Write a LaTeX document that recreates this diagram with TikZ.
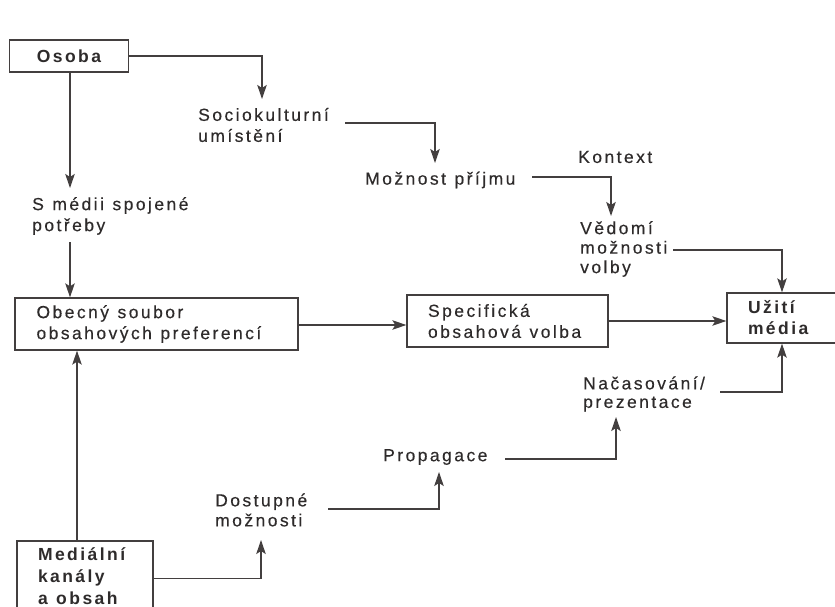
\documentclass[tikz,border=0pt]{standalone}
\usepackage{fontspec}
\setmainfont{Liberation Sans}[LetterSpace=14,FakeBold=0.3,BoldFeatures={FakeBold=0}]
\usetikzlibrary{arrows.meta}
\definecolor{ink}{HTML}{2E2B2B}
\definecolor{lin}{HTML}{433F3F}
\newcommand\txtfont[1]{\fontsize{17.5}{#1}\selectfont\spaceskip=8.5pt plus 1pt minus 1pt\relax}
\begin{document}
\begin{tikzpicture}[x=1pt,y=-1pt,
  font=\txtfont{21},
  every node/.style={text=ink},
  lbl/.style={anchor=west,align=left,inner sep=0pt},
  box/.style={draw=lin,line width=1.3pt,inner ysep=0pt,align=flush left},
  arr/.style={draw=lin,line width=1.3pt,-{Stealth[length=14pt,width=9.5pt,inset=3pt]}},
  ln/.style={draw=lin,line width=1.3pt}]
\useasboundingbox[fill=white] (0,0) rectangle (835,607);
% boxes
\node[box,minimum width=119,minimum height=32,align=center,font=\txtfont{21}\bfseries] (osoba) at (69,56) {Osoba};
\node[box,minimum width=283,minimum height=52,text width=240,inner xsep=21.5] (obecny) at (156.5,324) {Obecný soubor\\obsahových preferencí};
\node[box,minimum width=201,minimum height=52,text width=159,inner xsep=21] (specif) at (507.5,321) {Specifická\\obsahová volba};
\node[box,minimum width=113,minimum height=50,text width=71,inner xsep=21,font=\txtfont{21}\bfseries] (uziti) at (783.5,318) {Užití\\média};
\node[box,minimum width=136,minimum height=71,text width=94,inner xsep=21,font=\txtfont{22}\bfseries] (medial) at (85,576.5) {Mediální\\kanály\\a obsah};
% labels
\node[lbl] (potreby) at (32,216) {S médii spojené\\potřeby};
\node[lbl] (socio) at (198,125) {Sociokulturní\\umístění};
\node[lbl] (moznost) at (365,180) {Možnost příjmu};
\node[lbl] (kontext) at (578,157) {Kontext};
\node[lbl,font=\txtfont{19.5}] (vedomi) at (580,249) {Vědomí\\možnosti\\volby};
\node[lbl,font=\txtfont{18.5}] (nacas) at (583,394) {Načasování/\\prezentace};
\node[lbl] (propag) at (383,457) {Propagace};
\node[lbl,font=\txtfont{20}] (dostup) at (215,510) {Dostupné\\možnosti};
% coordinates
\coordinate (socioTop) at (262,99);
\coordinate (potrebyTop) at (70,188);
\coordinate (potrebyBot) at (70,242);
\coordinate (socioOut) at (345,123);
\coordinate (moznostTop) at (435,163);
\coordinate (moznostOut) at (532,177);
\coordinate (vedomiTop) at (611,216);
\coordinate (vedomiOut) at (673,250);
\coordinate (nacasOut) at (720,392);
\coordinate (propagOut) at (505,459);
\coordinate (nacasBot) at (616,417);
\coordinate (dostupOut) at (328,509);
\coordinate (propagBot) at (439,472);
\coordinate (dostupBot) at (261,540);
% connectors
\draw[arr] (osoba.east) -| (socioTop);
\draw[arr] (osoba.south -| potrebyTop) -- (potrebyTop);
\draw[arr] (potrebyBot) -- (potrebyBot |- obecny.north);
\draw[arr] (socioOut) -| (moznostTop);
\draw[arr] (moznostOut) -| (vedomiTop);
\draw[arr] (vedomiOut) -| ([xshift=-1.5pt]uziti.north);
\draw[arr] ([yshift=-1pt]obecny.east) -- ([yshift=-1pt]obecny.east -| specif.west);
\draw[arr] (specif.east) -- (specif.east -| uziti.west);
\draw[arr] (nacasOut) -| ([xshift=-1.5pt]uziti.south);
\draw[arr] (propagOut) -| (nacasBot);
\draw[arr] (dostupOut) -| (propagBot);
\draw[arr] ([yshift=-2pt]medial.east) -| (dostupBot);
\draw[arr] ([xshift=-8pt]medial.north) -- ([xshift=-8pt]medial.north |- obecny.south);
\end{tikzpicture}
\end{document}
